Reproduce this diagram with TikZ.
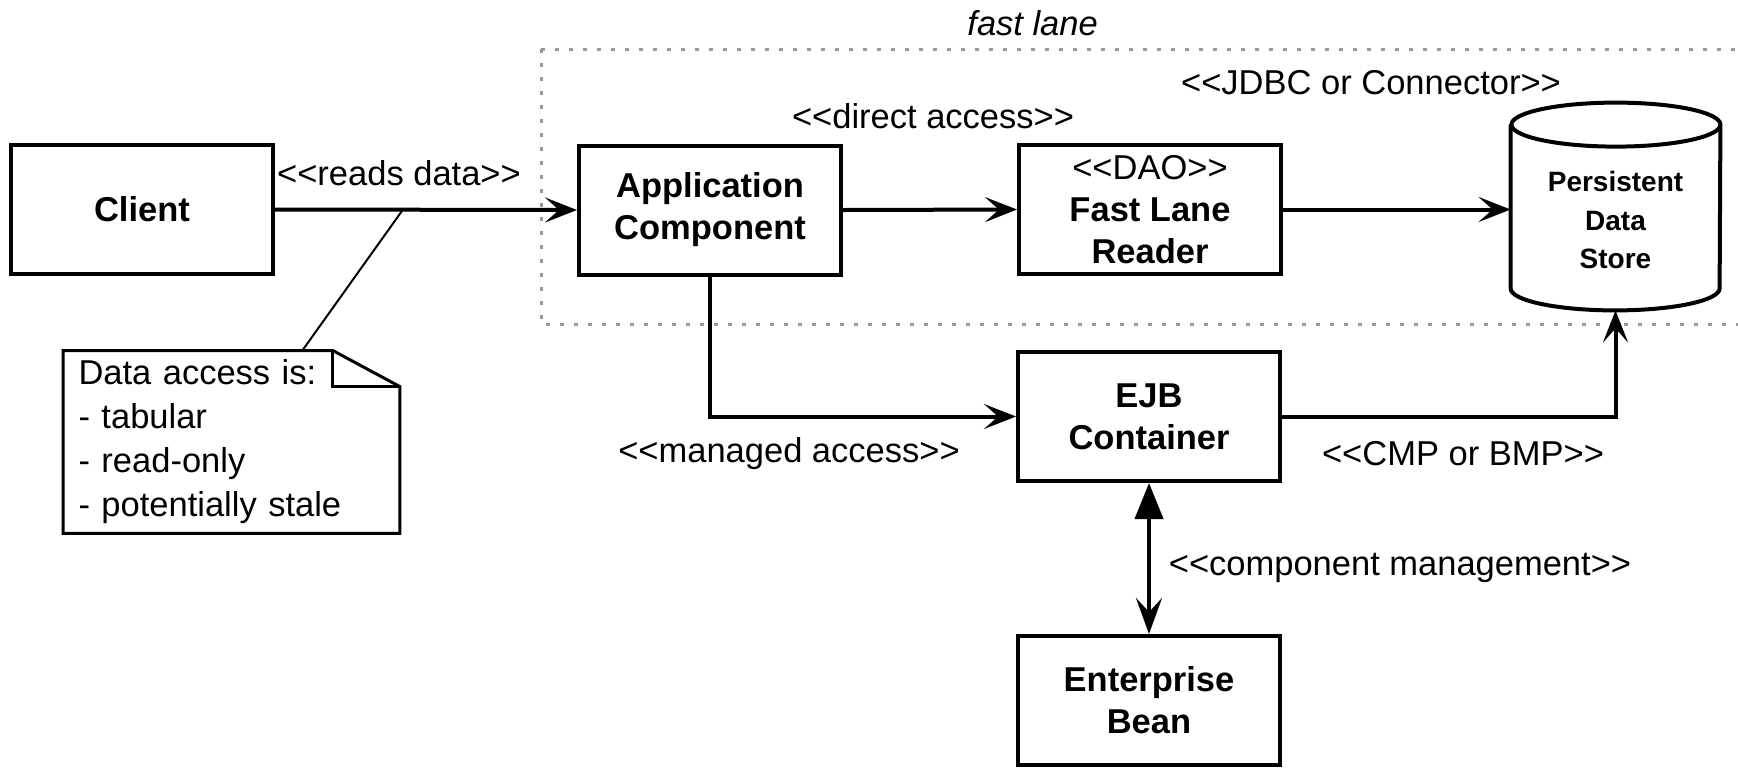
\documentclass[tikz,border=0pt]{standalone}
\usepackage{fontspec}
\setmainfont{Liberation Sans}
\usetikzlibrary{arrows.meta}
\newcommand\sopen{<\kern0pt<}
\newcommand\sclose{>\kern0pt>}
\begin{document}
\begin{tikzpicture}[x=0.5pt,y=-0.5pt,
  every node/.style={inner sep=0pt},
  box/.style={draw, line width=2pt, minimum width=131pt, minimum height=64.5pt, align=center,
    font=\fontsize{17.25}{21}\selectfont\bfseries},
  lbl/.style={anchor=base, font=\fontsize{17.25}{21}\selectfont},
  conn/.style={line width=2pt},
  arr/.style={conn, -{Stealth[length=16pt,width=12.5pt,inset=7pt]}},
  dblarr/.style={conn, {Triangle[length=18pt,width=14pt]}-{Stealth[length=18pt,width=13pt,inset=7pt]}},
  lanebox/.style={draw=gray!80, line width=1.5pt, dash pattern=on 2pt off 5pt},
  notebox/.style={text width=153pt, inner xsep=7.5pt, minimum height=91pt, align=left,
    font=\fontsize{17.25}{22}\selectfont},
  noteline/.style={line width=1.5pt},
  thinline/.style={line width=1pt},
]
\useasboundingbox (0,0) rectangle (1738,767);

% fast lane region
\draw[lanebox] (541,49) rectangle (1780,324);
\node[anchor=base west, font=\fontsize{17.25}{21}\selectfont\itshape] (lane) at (967,35) {fast lane};

% nodes
\node[box] (client) at (142,209.5) {Client};
\node[box] (app) at (710,210) {Application\\Component};
\node[box] (dao) at (1150,209.5) {{\mdseries\sopen DAO\sclose}\\Fast Lane\\Reader};
\node[box] (ejb) at (1149,416.5) {EJB\\Container};
\node[box] (bean) at (1149,700.5) {Enterprise\\Bean};

% data store cylinder
\node[minimum width=104.5pt, minimum height=103.5pt] (db) at (1615.5,206.5) {};
\draw[conn] ([yshift=-11pt]db.north west) -- ([yshift=11pt]db.south west)
  arc[start angle=180,end angle=360,x radius=52.25pt,y radius=11pt]
  -- ([yshift=-11pt]db.north east)
  arc[start angle=0,end angle=180,x radius=52.25pt,y radius=11pt]
  arc[start angle=180,end angle=360,x radius=52.25pt,y radius=11pt];
\node[align=center, font=\fontsize{14}{19.25}\selectfont\bfseries] (dbtxt) at (1615.5,220) {Persistent\\Data\\Store};

% note
\node[notebox] (note) at (231.5,442) {Data access is:\\- tabular\\- read-only\\- potentially stale};
\draw[noteline] (note.north west) -- ([xshift=-33.5pt]note.north east) -- ([yshift=-18pt]note.north east)
  -- (note.south east) -- (note.south west) -- cycle;
\draw[noteline] ([xshift=-33.5pt]note.north east) -- ([xshift=-33.5pt,yshift=-18pt]note.north east)
  -- ([yshift=-18pt]note.north east);

% connectors
\draw[arr] (client.east) -- (app.west);
\draw[arr] (app.east) -- (dao.west);
\draw[arr] (dao.east) -- (dao.east -| db.west);
\draw[arr] (app.south) |- (ejb.west);
\draw[arr] (ejb.east) -| (db.south);
\draw[dblarr] (ejb.south) -- (bean.north);

\coordinate (np) at (403,209.5);
\coordinate (nt) at (302,351);
\draw[thinline] (np) -- (nt);

% labels
\node[lbl] (l1) at (399,185) {\sopen reads data\sclose};
\node[lbl] (l2) at (933,128) {\sopen direct access\sclose};
\node[lbl] (l3) at (1371,94) {\sopen JDBC or Connector\sclose};
\node[lbl] (l4) at (789,462) {\sopen managed access\sclose};
\node[lbl] (l5) at (1463,465) {\sopen CMP or BMP\sclose};
\node[lbl] (l6) at (1400,575) {\sopen component management\sclose};
\end{tikzpicture}
\end{document}
